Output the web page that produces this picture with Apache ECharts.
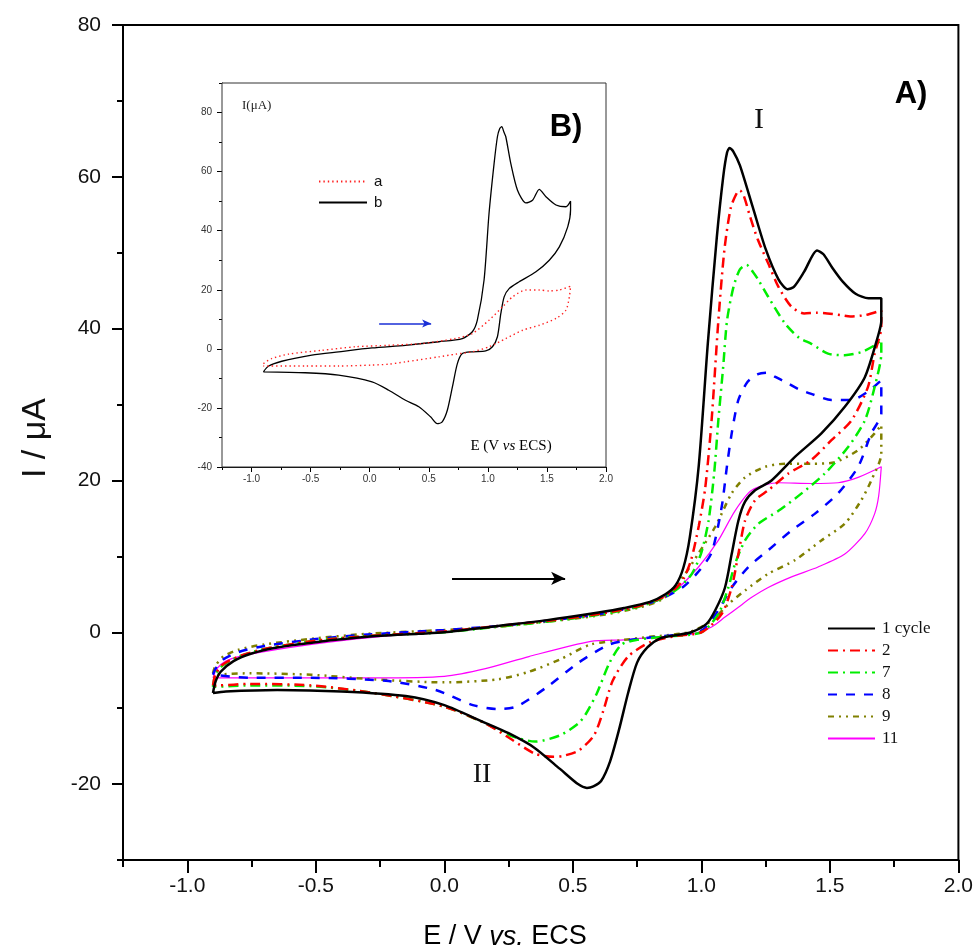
<!DOCTYPE html>
<html>
<head>
<meta charset="utf-8">
<script src="https://cdn.jsdelivr.net/npm/echarts@6/dist/echarts.min.js"></script>
<style>
html,body{margin:0;padding:0;background:#fff;}
#chart{width:976px;height:951px;}
</style>
</head>
<body>
<div id="chart"></div>
<script>
// ---------- Main panel A): cyclic voltammograms, [E (V vs ECS), I (uA)], forward then reverse scan ----------
const cycle1 = [[-0.9,-8],[-0.89,-6.5],[-0.87,-5.2],[-0.82,-3.8],[-0.75,-2.8],[-0.65,-2.0],[-0.5,-1.3],[-0.3,-0.6],[-0.1,-0.2],[0,0],[0.2,0.8],[0.4,1.6],[0.6,2.6],[0.7,3.2],[0.8,4],[0.86,5],[0.9,6.2],[0.93,8.5],[0.955,12.5],[0.99,22],[1.025,38],[1.06,52],[1.085,60],[1.1,63.2],[1.11,63.8],[1.125,63.3],[1.15,61.5],[1.2,56],[1.25,50.5],[1.3,46.5],[1.335,45.2],[1.36,45.5],[1.4,47.5],[1.45,50.3],[1.475,49.8],[1.51,48],[1.55,46.2],[1.6,44.6],[1.65,44],[1.7,44],
  [1.7,41],[1.687,39],[1.636,33.6],[1.558,29.7],[1.467,26.2],[1.364,23.1],[1.273,20],[1.209,18.7],[1.17,17.2],[1.144,14.7],[1.118,10.3],[1.092,5.9],[1.054,2.9],[1.02,1.1],[0.96,0],[0.9,-0.4],[0.84,-0.8],[0.79,-2],[0.75,-4],[0.715,-8],[0.68,-12.8],[0.645,-17],[0.61,-19.6],[0.58,-20.3],[0.555,-20.5],[0.52,-20],[0.45,-18],[0.35,-15.2],[0.25,-13.3],[0.15,-11.8],[0,-9.6],[-0.15,-8.4],[-0.4,-7.8],[-0.65,-7.6],[-0.85,-7.8],[-0.9,-8]];
const cycle2 = [[-0.9,-7],[-0.89,-5.5],[-0.86,-4.2],[-0.8,-3.2],[-0.7,-2.2],[-0.5,-1.1],[-0.3,-0.5],[0,0.1],[0.2,0.8],[0.4,1.5],[0.6,2.4],[0.75,3.4],[0.85,4.6],[0.9,5.8],[0.93,7],[0.96,9.5],[0.99,14],[1.015,19],[1.04,28],[1.066,41],[1.09,50.5],[1.115,56],[1.14,58],[1.15,58.2],[1.165,57.5],[1.19,54.7],[1.22,51.7],[1.26,48.6],[1.3,45.5],[1.35,42.9],[1.4,42],[1.45,42.1],[1.49,42],[1.54,41.8],[1.58,41.6],[1.64,41.8],[1.7,42.4],
  [1.7,40.2],[1.674,36.7],[1.648,32.3],[1.584,27.9],[1.506,25.3],[1.428,22.7],[1.338,20.9],[1.26,18.7],[1.209,17.4],[1.17,14.7],[1.144,10.3],[1.118,5.9],[1.079,2.4],[1.0,0],[0.9,-0.5],[0.8,-1.3],[0.715,-3.2],[0.655,-6.4],[0.618,-10.4],[0.582,-13.6],[0.522,-15.6],[0.46,-16.3],[0.425,-16.4],[0.353,-16],[0.256,-14],[0.16,-12],[0,-9.8],[-0.275,-8],[-0.517,-7],[-0.758,-6.8],[-0.88,-7],[-0.9,-7]];
const cycle7 = [[-0.9,-7.2],[-0.89,-5.5],[-0.86,-4.3],[-0.8,-3.2],[-0.7,-2.2],[-0.5,-1.1],[-0.3,-0.5],[0,0],[0.2,0.7],[0.4,1.4],[0.6,2.3],[0.75,3.3],[0.85,4.5],[0.91,5.8],[0.963,7.7],[1.0,10.5],[1.028,14.7],[1.05,21],[1.066,27.9],[1.085,35],[1.1,41.1],[1.125,45.5],[1.15,47.8],[1.176,48.4],[1.2,47.5],[1.222,46.4],[1.26,44.2],[1.325,40.7],[1.38,38.8],[1.428,38],[1.493,36.7],[1.558,36.5],[1.622,36.9],[1.674,37.8],[1.7,38.5],
  [1.7,36.7],[1.674,32.3],[1.636,27.9],[1.571,24.4],[1.48,20.9],[1.39,18.3],[1.3,16],[1.222,14.3],[1.17,12.1],[1.131,9],[1.105,5.9],[1.066,2.4],[1.0,0],[0.85,-0.6],[0.75,-1.0],[0.69,-1.6],[0.643,-4],[0.594,-8],[0.55,-10.8],[0.522,-12],[0.449,-13.6],[0.353,-14.4],[0.256,-13.6],[0.16,-12],[0,-9.8],[-0.275,-8],[-0.517,-7.1],[-0.758,-7],[-0.9,-7.2]];
const cycle8 = [[-0.9,-5.6],[-0.89,-4.8],[-0.86,-3.6],[-0.8,-2.6],[-0.7,-1.8],[-0.5,-0.9],[-0.3,-0.3],[0,0.3],[0.2,0.8],[0.4,1.5],[0.6,2.4],[0.75,3.4],[0.85,4.5],[0.93,6],[0.989,8],[1.04,10.5],[1.079,16.5],[1.1,22],[1.118,26.2],[1.144,30.6],[1.18,33],[1.22,34],[1.255,34.2],[1.29,33.6],[1.325,33],[1.38,32],[1.428,31.4],[1.506,30.6],[1.584,30.6],[1.648,31.7],[1.7,33.2],
  [1.7,28.8],[1.661,26.2],[1.61,21.8],[1.532,18.3],[1.441,15.6],[1.35,13.4],[1.26,10.8],[1.183,8.6],[1.118,5.9],[1.066,2.9],[1.0,0.2],[0.85,-0.5],[0.75,-0.9],[0.643,-1.6],[0.522,-4],[0.4,-7.2],[0.28,-9.8],[0.208,-10.1],[0.111,-9.6],[-0.034,-7.6],[-0.227,-6.4],[-0.517,-6],[-0.758,-6],[-0.9,-5.6]];
const cycle9 = [[-0.9,-5.4],[-0.89,-4.4],[-0.86,-3.2],[-0.8,-2.3],[-0.7,-1.6],[-0.5,-0.8],[-0.3,-0.2],[0,0.3],[0.2,0.7],[0.4,1.4],[0.6,2.2],[0.75,3.2],[0.85,4.4],[0.937,7.7],[0.989,10.4],[1.054,13.9],[1.118,18.3],[1.17,20.4],[1.248,21.8],[1.325,22.2],[1.428,22.2],[1.519,22.4],[1.61,24],[1.674,26.2],[1.7,27.3],
  [1.7,23.5],[1.661,20],[1.622,17.4],[1.558,14.3],[1.467,12.1],[1.364,9.5],[1.26,7.7],[1.17,5.5],[1.105,3.7],[1.04,1.5],[0.95,0],[0.8,-0.6],[0.7,-1.0],[0.57,-1.6],[0.449,-3.6],[0.329,-5.2],[0.208,-6.2],[0,-6.6],[-0.275,-6.2],[-0.517,-5.6],[-0.758,-5.4],[-0.9,-5.6]];
const cycle11 = [[-0.9,-6],[-0.885,-4.8],[-0.85,-3.8],[-0.8,-3.2],[-0.6,-2],[-0.4,-1.1],[-0.2,-0.4],[0,0],[0.2,0.8],[0.4,1.6],[0.6,2.5],[0.75,3.4],[0.85,4.6],[0.911,5.9],[0.989,8.6],[1.066,12.1],[1.131,16],[1.196,18.7],[1.3,19.7],[1.428,19.6],[1.532,19.7],[1.61,20.4],[1.7,21.8],
  [1.69,18],[1.674,15.6],[1.636,13],[1.558,10.3],[1.454,8.6],[1.351,7.3],[1.26,5.9],[1.196,4.6],[1.144,3.3],[1.092,2],[1.04,0.7],[0.963,-0.2],[0.8,-0.7],[0.7,-1],[0.57,-1.2],[0.329,-3.2],[0.16,-4.8],[0,-5.8],[-0.275,-6],[-0.64,-6],[-0.9,-6]];

// ---------- Inset B): curves a and b ----------
const insetA = [[-0.9,-5],[-0.83,-3.3],[-0.688,-1.8],[-0.405,-0.5],[-0.122,0.7],[0.161,1.2],[0.444,1.8],[0.727,3.5],[0.869,5.2],[1.01,9.7],[1.124,14.2],[1.209,17.6],[1.322,19.9],[1.435,19.9],[1.52,19.6],[1.605,19.9],[1.7,21.2],
  [1.69,17.6],[1.661,13.1],[1.577,10.3],[1.435,8],[1.294,6.3],[1.152,3.5],[1.01,0.7],[0.869,-1],[0.727,-1.8],[0.586,-2.7],[0.303,-4.4],[0.161,-5.2],[0.02,-5.5],[-0.263,-5.8],[-0.546,-5.8],[-0.9,-5.8]];
const insetB = [[-0.9,-7.8],[-0.858,-5.9],[-0.744,-4.2],[-0.49,-2.1],[-0.263,-1],[0.02,0.3],[0.303,1.2],[0.586,2.4],[0.784,3.5],[0.869,5.8],[0.911,9.7],[0.968,23.3],[1.01,45.8],[1.053,62.8],[1.081,71.8],[1.1,74.5],[1.118,75.2],[1.135,73.5],[1.152,71.8],[1.194,62.8],[1.251,53.7],[1.322,49.4],[1.378,50.3],[1.435,54],[1.492,51.5],[1.577,48.7],[1.661,48.1],[1.7,50],
  [1.7,47],[1.676,41.3],[1.605,34.5],[1.52,30],[1.407,26.1],[1.265,22.7],[1.18,20.4],[1.138,17.6],[1.11,12],[1.081,4.1],[1.039,0.7],[0.982,-0.7],[0.869,-1],[0.784,-1.6],[0.742,-5],[0.7,-12.9],[0.657,-20.8],[0.614,-24.7],[0.572,-25.3],[0.515,-23],[0.416,-19.6],[0.303,-17.4],[0.161,-14],[0.02,-11.2],[-0.263,-8.9],[-0.546,-8.1],[-0.9,-7.8]];

// ---------- Tick values ----------
const mainXLabels = [-1.0,-0.5,0.0,0.5,1.0,1.5,2.0];
const mainXMinor = [-1.25,-0.75,-0.25,0.25,0.75,1.25,1.75];
const mainYLabels = [-20,0,20,40,60,80];
const mainYMinor = [-30,-10,10,30,50,70];
const insetXLabels = [-1.0,-0.5,0.0,0.5,1.0,1.5,2.0];
const insetXMinor = [-1.25,-0.75,-0.25,0.25,0.75,1.25,1.75];
const insetYLabels = [-40,-20,0,20,40,60,80];
const insetYMinor = [-30,-10,10,30,50,70,90];

// scan-direction arrows (data coordinates)
const mainArrow = [[0.03,7.1],[0.47,7.1]];
const insetArrow = [[0.08,8.6],[0.52,8.6]];

const chart = echarts.init(document.getElementById('chart'), null, {renderer:'canvas'});

const sans = "'Liberation Sans', Arial, sans-serif";
const serif = "'Liberation Serif','Times New Roman',serif";

function majorX(grid, vals, len, fs, margin, color, ff, lw){
  return {type:'value', gridIndex:grid, min:-1.25, max:2.0, position:'bottom',
    axisLine:{show:true, onZero:false, lineStyle:{color:'#000', width:lw}},
    axisTick:{show:true, customValues:vals, length:len, lineStyle:{color:'#000', width:lw}},
    axisLabel:{show:true, customValues:vals, margin:margin, fontSize:fs, fontFamily:ff, color:color, formatter:v=>Number(v).toFixed(1)},
    splitLine:{show:false}};
}
function minorX(grid, vals, len, lw){
  return {type:'value', gridIndex:grid, min:-1.25, max:2.0, position:'bottom',
    axisLine:{show:false, onZero:false}, axisLabel:{show:false},
    axisTick:{show:true, customValues:vals, length:len, lineStyle:{color:'#000', width:lw}},
    splitLine:{show:false}};
}
function majorY(grid, min, max, vals, len, fs, margin, color, ff, lw){
  return {type:'value', gridIndex:grid, min:min, max:max, position:'left',
    axisLine:{show:true, onZero:false, lineStyle:{color:'#000', width:lw}},
    axisTick:{show:true, customValues:vals, length:len, lineStyle:{color:'#000', width:lw}},
    axisLabel:{show:true, customValues:vals, margin:margin, fontSize:fs, fontFamily:ff, color:color, formatter:v=>String(v)},
    splitLine:{show:false}};
}
function minorY(grid, min, max, vals, len, lw){
  return {type:'value', gridIndex:grid, min:min, max:max, position:'left',
    axisLine:{show:false, onZero:false}, axisLabel:{show:false},
    axisTick:{show:true, customValues:vals, length:len, lineStyle:{color:'#000', width:lw}},
    splitLine:{show:false}};
}

function cv(name, data, color, width, type, z){
  return {type:'line', name:name, data:data, xAxisIndex:0, yAxisIndex:0,
    symbol:'none', smooth:0.25, z:z||2,
    lineStyle:{color:color, width:width, type:type, cap:'butt'},
    itemStyle:{color:color}, emphasis:{disabled:true}, silent:true};
}

const series = [
  cv('11', cycle11, '#ff00ff', 1.2, 'solid', 2),
  cv('9', cycle9, '#808000', 2.5, [6,5,2,5,2,5], 3),
  cv('8', cycle8, '#0000ff', 2.5, [9,9], 3),
  cv('7', cycle7, '#00ee00', 2.5, [10,5,2,5], 3),
  cv('2', cycle2, '#ff0000', 2.5, [10,5,2,5], 4),
  cv('1 cycle', cycle1, '#000000', 2.5, 'solid', 5),
  {type:'line', name:'arrowMain', data:[], xAxisIndex:0, yAxisIndex:0, silent:true,
    markLine:{silent:true, symbol:['none','arrow'], symbolSize:[10,14], animation:false,
      label:{show:false}, lineStyle:{color:'#000', width:2, type:'solid'},
      emphasis:{disabled:true},
      data:[[{coord:mainArrow[0]},{coord:mainArrow[1]}]]}},
  {type:'line', name:'b', data:insetB, xAxisIndex:2, yAxisIndex:2, symbol:'none', smooth:0.25, z:4,
    lineStyle:{color:'#000', width:1.3, type:'solid'}, itemStyle:{color:'#000'}, silent:true},
  {type:'line', name:'a', data:insetA, xAxisIndex:2, yAxisIndex:2, symbol:'none', smooth:0.25, z:4,
    lineStyle:{color:'#ff2020', width:1.4, type:[1.4,3]}, itemStyle:{color:'#ff2020'}, silent:true},
  {type:'line', name:'arrowInset', data:[], xAxisIndex:2, yAxisIndex:2, silent:true,
    markLine:{silent:true, symbol:['none','arrow'], symbolSize:[6,9], animation:false,
      label:{show:false}, lineStyle:{color:'#1a2fd6', width:1.5, type:'solid'},
      emphasis:{disabled:true},
      data:[[{coord:insetArrow[0]},{coord:insetArrow[1]}]]}}
];

const hiddenSymbol = {color:'rgba(0,0,0,0)', borderColor:'rgba(0,0,0,0)', borderWidth:0, opacity:0};

const option = {
  animation:false,
  backgroundColor:'#ffffff',
  grid:[
    {left:123, right:16, top:25, bottom:91, show:true, borderColor:'#000', borderWidth:2, backgroundColor:'transparent'},
    {left:222, right:370, top:83, bottom:484, show:true, borderColor:'#333', borderWidth:1, backgroundColor:'#fff', z:1}
  ],
  xAxis:[
    majorX(0, mainXLabels, 13, 21, 16, '#111', sans, 2),
    minorX(0, mainXMinor, 7, 2),
    majorX(1, insetXLabels, 5, 10, 7, '#333', sans, 1),
    minorX(1, insetXMinor, 3, 1)
  ],
  yAxis:[
    majorY(0, -30, 80, mainYLabels, 11, 21, 22, '#111', sans, 2),
    minorY(0, -30, 80, mainYMinor, 6, 2),
    majorY(1, -40, 90, insetYLabels, 5, 10, 10, '#333', sans, 1),
    minorY(1, -40, 90, insetYMinor, 3, 1)
  ],
  legend:[
    {orient:'vertical', left:822, top:615, itemWidth:47, itemHeight:14, itemGap:5,
      data:['1 cycle','2','7','8','9','11'], selectedMode:false, itemStyle:hiddenSymbol,
      textStyle:{fontFamily:serif, fontSize:17, color:'#111', padding:[0,0,0,2]}},
    {orient:'vertical', left:313, top:169, itemWidth:48, itemHeight:14, itemGap:6,
      data:['a','b'], selectedMode:false, itemStyle:hiddenSymbol,
      textStyle:{fontFamily:sans, fontSize:15, color:'#111', padding:[0,0,0,2]}}
  ],
  graphic:[
    {type:'text', style:{text:'I / \u03bcA', x:0, y:0, font:"34px 'Liberation Sans', Arial, sans-serif", fill:'#111', textAlign:'center', textVerticalAlign:'middle'}, x:36, y:438, rotation:Math.PI/2},
    {type:'text', style:{text:'{n|E / V }{i|vs.}{n| ECS}', x:505, y:937, textAlign:'center', textVerticalAlign:'middle',
      rich:{n:{fontFamily:sans, fontSize:27, color:'#111'}, i:{fontFamily:sans, fontSize:27, fontStyle:'italic', color:'#111'}}}},
    {type:'text', style:{text:'A)', x:911, y:94, font:"bold 31px 'Liberation Sans', Arial, sans-serif", fill:'#000', textAlign:'center', textVerticalAlign:'middle'}},
    {type:'text', style:{text:'I', x:759, y:120, font:"30px 'Liberation Serif', serif", fill:'#111', textAlign:'center', textVerticalAlign:'middle'}},
    {type:'text', style:{text:'II', x:482, y:775, font:"28px 'Liberation Serif', serif", fill:'#111', textAlign:'center', textVerticalAlign:'middle'}},
    {type:'text', z:100, style:{text:'B)', x:566, y:127, font:"bold 31px 'Liberation Sans', Arial, sans-serif", fill:'#000', textAlign:'center', textVerticalAlign:'middle'}},
    {type:'text', z:100, style:{text:'I(\u03bcA)', x:242, y:106, font:"13px 'Liberation Serif', serif", fill:'#222', textAlign:'left', textVerticalAlign:'middle'}},
    {type:'text', z:100, style:{text:'{n|E (V }{i|vs}{n| ECS)}', x:511, y:446, textAlign:'center', textVerticalAlign:'middle',
      rich:{n:{fontFamily:serif, fontSize:15, color:'#222'}, i:{fontFamily:serif, fontSize:15, fontStyle:'italic', color:'#222'}}}}
  ],
  series:series
};
chart.setOption(option);
</script>
</body>
</html>
